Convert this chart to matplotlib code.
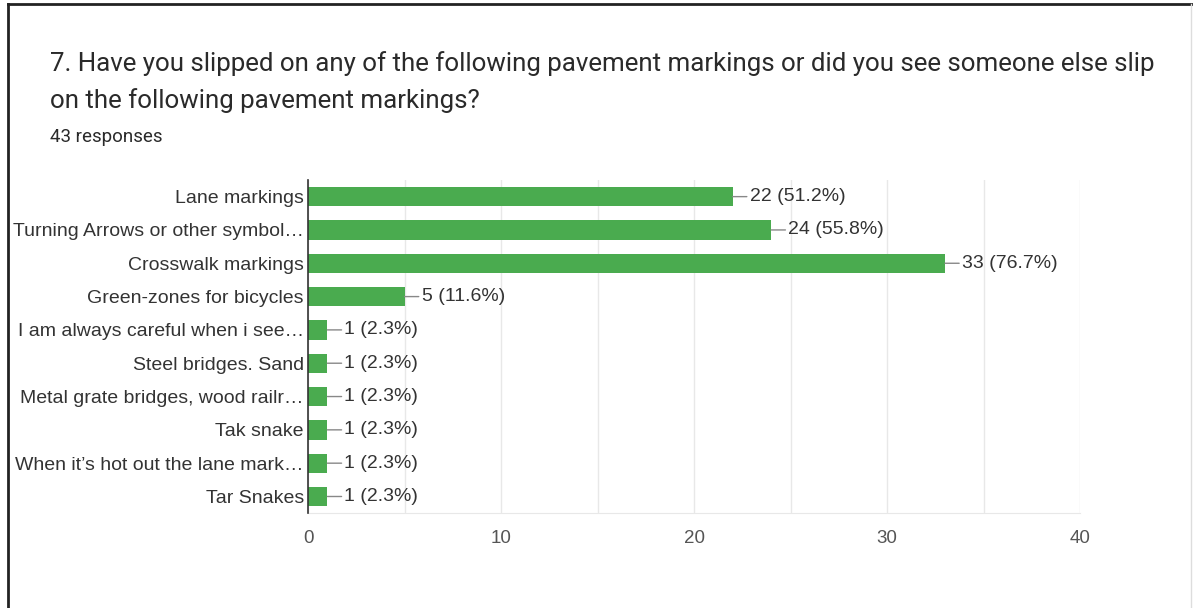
import matplotlib
matplotlib.use("Agg")
import matplotlib.pyplot as plt
from matplotlib.lines import Line2D

categories = [
    "Lane markings",
    "Turning Arrows or other symbol\u2026",
    "Crosswalk markings",
    "Green-zones for bicycles",
    "I am always careful when i see\u2026",
    "Steel bridges. Sand",
    "Metal grate bridges, wood railr\u2026",
    "Tak snake",
    "When it\u2019s hot out the lane mark\u2026",
    "Tar Snakes",
]
counts = [22, 24, 33, 5, 1, 1, 1, 1, 1, 1]
percents = [51.2, 55.8, 76.7, 11.6, 2.3, 2.3, 2.3, 2.3, 2.3, 2.3]
x_ticks = [0, 10, 20, 30, 40]

BAR = "#4aab4f"
TEXT = "#333333"

fig = plt.figure(figsize=(11.93, 6.08), dpi=100)
ax = fig.add_axes([0.2582, 0.156, 0.6471, 0.548])

ypos = list(range(len(categories)))
ax.barh(ypos, counts, height=0.58, color=BAR, zorder=3)
ax.set_ylim(len(categories) - 0.5, -0.5)
ax.set_xlim(0, 40)

ax.set_yticks(ypos)
ax.set_yticklabels(categories, fontsize=14, color=TEXT, family="Liberation Sans")
ax.set_xticks(x_ticks)
ax.set_xticklabels([str(t) for t in x_ticks], fontsize=13.5, color="#555555",
                   family="Liberation Sans")
ax.set_xticks(range(0, 41, 5), minor=True)
ax.tick_params(axis="y", length=0, pad=3)
ax.tick_params(axis="x", which="both", length=0, pad=12)
ax.grid(axis="x", which="both", color="#e8e8e8", lw=1, zorder=0)

for s in ["top", "right"]:
    ax.spines[s].set_visible(False)
ax.spines["bottom"].set_color("#e8e8e8")
ax.spines["left"].set_color("#333333")
ax.spines["left"].set_linewidth(1.2)
ax.spines["left"].set_zorder(4)

for i, (c, p) in enumerate(zip(counts, percents)):
    ax.annotate(f"{c} ({p}%)", xy=(c, i), xytext=(17, 0),
                textcoords="offset pixels", va="center", ha="left",
                fontsize=14, color=TEXT, family="Liberation Sans",
                arrowprops=dict(arrowstyle="-", color="#888888", lw=1,
                                shrinkA=0, shrinkB=0))

fig.text(50 / 1193, 1 - 64 / 608,
         "7. Have you slipped on any of the following pavement markings or did you see someone else slip",
         fontsize=18.6, color="#2a2a2a", family="Roboto", va="center")
fig.text(50 / 1193, 1 - 101 / 608, "on the following pavement markings?",
         fontsize=18.6, color="#2a2a2a", family="Roboto", va="center")
fig.text(50 / 1193, 1 - 137 / 608, "43 responses",
         fontsize=13.5, color="#2a2a2a", family="Roboto", va="center")

# outer frame of the screenshot
fig.add_artist(Line2D([8 / 1193, 8 / 1193], [0, 1 - 4 / 608], color="#222222",
                      lw=2, transform=fig.transFigure))
fig.add_artist(Line2D([8 / 1193, 1], [1 - 4 / 608, 1 - 4 / 608], color="#222222",
                      lw=2, transform=fig.transFigure))
fig.add_artist(Line2D([1191 / 1193, 1191 / 1193], [0, 1 - 4 / 608], color="#dddddd",
                      lw=1, transform=fig.transFigure))

fig.savefig("out.png", dpi=100)
